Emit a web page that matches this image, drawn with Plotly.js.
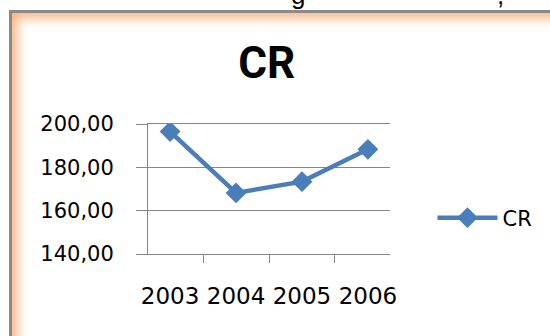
<!DOCTYPE html>
<html>
<head>
<meta charset="utf-8">
<script src="https://cdn.plot.ly/plotly-3.0.1.min.js"></script>
<style>
  html, body { margin: 0; padding: 0; background: #ffffff; width: 550px; height: 336px; overflow: hidden; }
  #frame {
    position: absolute; left: 9px; top: 10px; width: 620px; height: 420px;
    border-left: 3px solid #8a8a8a; border-top: 3px solid #8a8a8a;
    box-shadow: inset 4px 4px 12px 1px rgba(245, 160, 95, 0.8);
    background: #ffffff;
  }
  #chart { position: absolute; left: 0; top: 0; width: 550px; height: 336px; }
</style>
</head>
<body>
<div id="frame"></div>
<div id="chart"></div>
<script>
const years = ['2003', '2004', '2005', '2006'];
const crValues = [196.5, 168.2, 173.4, 188.3];
const seriesName = 'CR';
const chartTitle = 'CR';
const yTicks = [140, 160, 180, 200];

const blue = '#4a7ebb';
const grid = '#868686';

const trace = {
  x: years,
  y: crValues,
  name: seriesName,
  type: 'scatter',
  mode: 'lines+markers',
  line: { color: blue, width: 4.5 },
  marker: { symbol: 'diamond', size: 16, color: blue, line: { width: 0 } }
};

const layout = {
  width: 550,
  height: 336,
  paper_bgcolor: 'rgba(0,0,0,0)',
  plot_bgcolor: 'rgba(0,0,0,0)',
  margin: { l: 148, r: 157, t: 124, b: 82 },
  separators: ', ',
  title: {
    text: chartTitle,
    font: { family: 'Roboto, Liberation Sans', size: 44, color: '#000000', weight: 'bold' },
    x: 270 / 550, xanchor: 'center', xref: 'paper',
    y: 1 - 63 / 336, yanchor: 'middle', yref: 'container'
  },
  xaxis: {
    type: 'category',
    showgrid: false,
    showline: true, mirror: true, linecolor: grid, linewidth: 1,
    ticks: 'outside', tickson: 'boundaries', ticklen: 8, tickcolor: grid, tickwidth: 1,
    tickangle: 0,
    ticklabelstandoff: 21,
    tickfont: { family: 'DejaVu Sans', size: 23, color: '#000000' },
    zeroline: false,
    fixedrange: true
  },
  yaxis: {
    range: [140, 200],
    tickvals: yTicks,
    tickformat: '.2f',
    showgrid: true, gridcolor: grid, gridwidth: 1,
    showline: true, linecolor: grid, linewidth: 1,
    ticks: 'outside', ticklen: 11, tickcolor: grid, tickwidth: 1,
    ticklabelstandoff: 18,
    tickfont: { family: 'DejaVu Sans', size: 21, color: '#000000' },
    zeroline: false,
    fixedrange: true
  },
  showlegend: true,
  legend: {
    x: (436 - 148) / 245, xanchor: 'left',
    y: (254 - 218) / 130, yanchor: 'middle',
    font: { family: 'DejaVu Sans', size: 21, color: '#000000' },
    bgcolor: 'rgba(0,0,0,0)',
    itemwidth: 60,
    borderwidth: 0
  },
  annotations: [
    { text: 'g', xref: 'paper', yref: 'paper', x: (300 - 148) / 245, y: 1, yshift: 112,
      xanchor: 'center', yanchor: 'bottom', showarrow: false,
      font: { family: 'Liberation Sans', size: 26, color: '#000000' } },
    { text: ',', xref: 'paper', yref: 'paper', x: (505 - 148) / 245, y: 1, yshift: 112,
      xanchor: 'center', yanchor: 'bottom', showarrow: false,
      font: { family: 'Liberation Sans', size: 26, color: '#000000' } }
  ]
};

Plotly.newPlot('chart', [trace], layout, { displayModeBar: false, staticPlot: true });
</script>
</body>
</html>
